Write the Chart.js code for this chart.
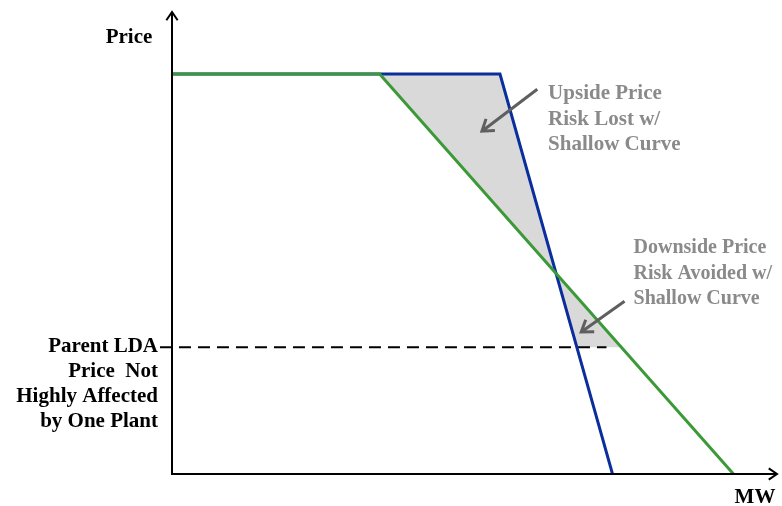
<!DOCTYPE html>
<html>
<head>
<meta charset="utf-8">
<script src="https://cdn.jsdelivr.net/npm/chart.js@4"></script>
<style>
  html, body { margin: 0; padding: 0; background: #fff; }
  #wrap { width: 782px; height: 506px; }
</style>
</head>
<body>
<div id="wrap"><canvas id="chart" width="782" height="506"></canvas></div>
<script>
// steep curve (blue) and shallow curve (green), MW vs price
const steepMW = [0, 54.5, 73.2];
const steepPrice = [100, 100, 0];
const shallowMW = [0, 34.5, 93.3];
const shallowPrice = [100, 100, 0];

// parent LDA price level
const ldaPrice = 31.7;
const ldaMW = [-2, 72.2];

const leftLabel = ["Parent LDA", "Price  Not", "Highly Affected", "by One Plant"];
const upsideLabel = ["Upside Price", "Risk Lost w/", "Shallow Curve"];
const downsideLabel = ["Downside Price", "Risk Avoided w/", "Shallow Curve"];

const blue = "#0a2f9c";
const green = "#3b9a37";
const gray = "#8a8a8a";
const font = "'Liberation Serif', 'Times New Roman', serif";

function pts(xs, ys) {
    return xs.map((x, i) => ({ x: x, y: ys[i] }));
}

// MW on a curve at a given price (sloped segment)
function mwAt(xs, ys, price) {
    for (let i = 0; i < xs.length - 1; i++) {
        const a = ys[i], b = ys[i + 1];
        if (a !== b && price <= Math.max(a, b) && price >= Math.min(a, b)) {
            return xs[i] + (price - a) / (b - a) * (xs[i + 1] - xs[i]);
        }
    }
    return null;
}

// shaded bowtie between the curves, down to the LDA price
const shade = [
    { x: shallowMW[1], y: shallowPrice[1] },
    { x: steepMW[1], y: steepPrice[1] },
    { x: mwAt(steepMW, steepPrice, ldaPrice), y: ldaPrice },
    { x: mwAt(shallowMW, shallowPrice, ldaPrice), y: ldaPrice },
    { x: shallowMW[1], y: shallowPrice[1] }
];

function arrow(ctx, x1, y1, x2, y2, size) {
    const a = Math.atan2(y2 - y1, x2 - x1);
    ctx.beginPath();
    ctx.moveTo(x1, y1);
    ctx.lineTo(x2, y2);
    ctx.moveTo(x2 - size * Math.cos(a - 0.6), y2 - size * Math.sin(a - 0.6));
    ctx.lineTo(x2, y2);
    ctx.lineTo(x2 - size * Math.cos(a + 0.6), y2 - size * Math.sin(a + 0.6));
    ctx.stroke();
}

const decor = {
    id: "decor",
    afterDatasetsDraw(chart) {
        const ctx = chart.ctx;
        const area = chart.chartArea;
        const xs = chart.scales.x, ys = chart.scales.y;
        const x0 = xs.getPixelForValue(0), y0 = ys.getPixelForValue(0);
        ctx.save();
        ctx.lineCap = "butt";
        ctx.lineJoin = "miter";

        // axes with arrows
        ctx.strokeStyle = "#000";
        ctx.lineWidth = 2;
        arrow(ctx, x0, y0 + 1, x0, area.top, 10);
        arrow(ctx, x0 - 1, y0, area.right - 1, y0, 10);

        // axis titles
        ctx.fillStyle = "#000";
        ctx.font = "bold 21px " + font;
        ctx.textAlign = "center";
        ctx.textBaseline = "alphabetic";
        ctx.fillText("Price", x0 - 43, area.top + 31);
        ctx.fillText("MW", area.right - 23, y0 + 29);

        // left label
        ctx.textAlign = "right";
        const ly = ys.getPixelForValue(ldaPrice);
        leftLabel.forEach((t, i) => ctx.fillText(t, x0 - 14, ly + 5 + i * 24.8));

        // annotations
        ctx.fillStyle = gray;
        ctx.textAlign = "left";
        upsideLabel.forEach((t, i) => ctx.fillText(t, xs.getPixelForValue(62.5), ys.getPixelForValue(93.7) + i * 25.5));
        ctx.font = "bold 20px " + font;
        downsideLabel.forEach((t, i) => ctx.fillText(t, xs.getPixelForValue(76.7), ys.getPixelForValue(55.3) + i * 25.7));

        ctx.strokeStyle = "#5f5f5f";
        ctx.lineWidth = 3;
        arrow(ctx, xs.getPixelForValue(60.7), ys.getPixelForValue(96.2),
              xs.getPixelForValue(51.5), ys.getPixelForValue(85.7), 13);
        arrow(ctx, xs.getPixelForValue(75.2), ys.getPixelForValue(43.2),
              xs.getPixelForValue(68), ys.getPixelForValue(35.5), 13);
        ctx.restore();
    }
};

new Chart(document.getElementById("chart"), {
    type: "scatter",
    data: {
        datasets: [
            {
                label: "Shallow",
                data: pts(shallowMW, shallowPrice),
                showLine: true,
                borderColor: green,
                borderWidth: 3,
                pointRadius: 0,
                order: 0
            },
            {
                label: "Steep",
                data: pts(steepMW, steepPrice),
                showLine: true,
                borderColor: blue,
                borderWidth: 3,
                pointRadius: 0,
                order: 1
            },
            {
                label: "LDA",
                data: ldaMW.map(x => ({ x: x, y: ldaPrice })),
                showLine: true,
                borderColor: "#000",
                borderWidth: 2,
                borderDash: [12, 7],
                pointRadius: 0,
                clip: false,
                order: 2
            },
            {
                label: "Shade",
                data: shade,
                showLine: true,
                borderWidth: 0,
                borderColor: "rgba(0,0,0,0)",
                backgroundColor: "#d9d9d9",
                fill: "shape",
                pointRadius: 0,
                order: 3
            }
        ]
    },
    options: {
        responsive: false,
        animation: false,
        layout: { padding: { left: 172, right: 4, top: 12, bottom: 32 } },
        scales: {
            x: { type: "linear", min: 0, max: 100.7, display: false },
            y: { type: "linear", min: 0, max: 115.5, display: false }
        },
        plugins: {
            legend: { display: false },
            tooltip: { enabled: false }
        }
    },
    plugins: [decor]
});
</script>
</body>
</html>
